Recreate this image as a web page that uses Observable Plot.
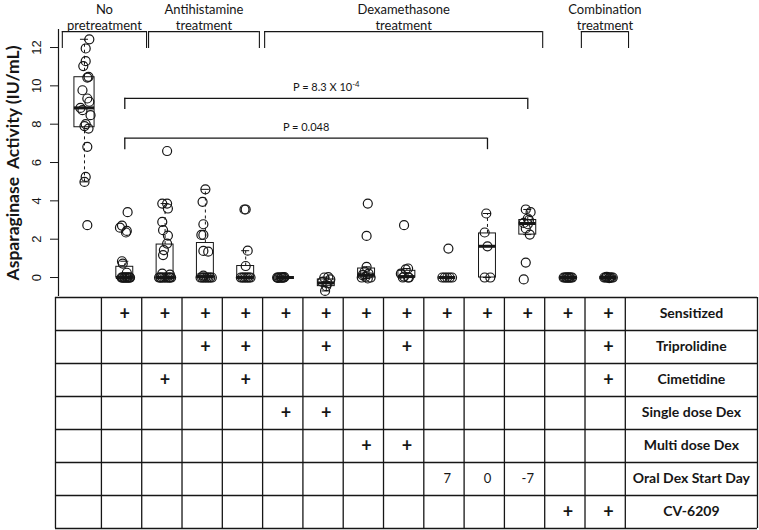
<!DOCTYPE html>
<html><head><meta charset="utf-8">
<script src="https://cdn.jsdelivr.net/npm/d3@7"></script>
<script src="https://cdn.jsdelivr.net/npm/@observablehq/plot@0.6"></script>
<style>body{margin:0;background:#fff} #chart svg{display:block}</style>
</head><body><div id="chart"></div>
<script>
// ---------- data ----------
const activity = [
  [12.43,11.95,11.29,11.03,10.47,10.43,9.77,9.34,9.17,8.85,8.73,8.47,8.0,7.9,7.77,6.82,5.25,4.99,2.73],
  [3.41,2.71,2.60,2.43,2.35,0.85,0.73,0.25,0,0,0,0,0,0,0,0,0,0,0,0],
  [6.6,3.86,3.86,3.6,2.9,2.47,2.19,1.77,1.43,1.17,0.2,0.15,0,0,0,0,0,0,0,0,0,0],
  [4.6,3.95,2.78,2.22,2.22,1.39,1.35,0.1,0,0,0,0,0,0,0,0],
  [3.55,3.55,1.4,0.6,0,0,0,0,0,0,0],
  [0,0,0,0,0,0,0.02,-0.02,0,0],
  [0.02,0,-0.1,-0.23,-0.3,-0.45,-0.7],
  [3.86,2.17,0.56,0.3,0.2,0.12,0.03,0,-0.05,0],
  [2.73,0.47,0.42,0.2,0.05,0,0,0],
  [1.51,0,0,0,0,0],
  [3.34,2.35,1.63,0,0],
  [3.55,3.41,3.08,3.0,2.85,2.78,2.56,2.24,0.78,-0.1],
  [0,0,0,0,0,0,0,0,0,0],
  [0,0,0.03,0,-0.03,0,0,0,0.02,0]
];
// horizontal jitter of each point, in group-spacing units
const jitter = [
  [0.12,0.03,0.03,-0.03,0.1,0.07,-0.05,0.07,0.12,-0.1,-0.05,0.15,0.03,0,0.1,0.07,0.03,0,0.07],
  [0.07,-0.07,-0.12,0.05,0.03,-0.07,-0.05,0.05,-0.08,-0.05,-0.02,0.01,0.04,0.07,0.1,0.13,-0.06,0,0.06,0.12],
  [0.05,-0.07,0.05,0.07,-0.07,-0.05,0.07,0.05,-0.03,-0.05,-0.07,0.12,-0.15,-0.1,-0.06,-0.02,0.02,0.06,0.1,0.15,-0.12,0.12],
  [0,-0.07,-0.05,-0.1,-0.05,-0.05,0.07,-0.05,-0.12,-0.08,-0.04,0,0.04,0.08,0.12,0.16],
  [-0.03,0,0.05,0,-0.12,-0.08,-0.04,0,0.04,0.08,0.12],
  [-0.22,-0.19,-0.16,-0.13,-0.1,-0.07,-0.04,-0.2,-0.11,-0.06],
  [0.05,-0.05,0.1,-0.1,0.03,0,-0.03],
  [0.03,0,0,-0.05,0.05,-0.1,-0.03,0.1,0.03,-0.12],
  [-0.07,0.03,-0.03,-0.15,-0.07,0.03,0.05,-0.1],
  [0.03,-0.12,-0.06,0,0.06,0.12],
  [-0.03,-0.07,0,-0.07,0.07],
  [-0.05,0.07,0,0.03,-0.1,0,-0.05,0.05,-0.05,-0.1],
  [-0.11,-0.08,-0.05,-0.02,0.01,0.04,0.07,0.1,-0.03,0.03],
  [-0.1,-0.07,-0.04,-0.01,0.02,0.05,0.08,0.11,-0.05,0.03]
];
// box-plot statistics per group (as drawn in the reference)
const boxQ1     = [7.84,0,0,0,0,0,-0.45,0,0,0,0,2.24,0,0];
const boxMedian = [8.85,0,0,0.05,0,0,-0.28,0.12,0.05,0,1.63,2.82,0,0];
const boxQ3     = [10.45,0.56,1.72,1.8,0.6,0,-0.1,0.47,0.35,0,2.3,3.0,0,0];
const whiskerLo = [4.99,0,0,0,0,0,-0.7,-0.05,0,0,0,2.24,0,0];
const whiskerHi = [12.43,0.85,3.86,4.6,1.4,0,0.02,0.56,0.47,0,3.34,3.55,0,0];

const yTicks = [0,2,4,6,8,10,12];
const yTitle = "Asparaginase  Activity (IU/mL)";

// treatment-category brackets (in group-index units)
const categoryLabels = ["No\npretreatment","Antihistamine\ntreatment","Dexamethasone\ntreatment","Combination\ntreatment"];
const categoryStart  = [-0.55, 1.59, 4.47, 12.33];
const categoryEnd    = [1.54, 4.34, 11.37, 13.5];

// significance brackets
const sigFrom  = [1, 1];
const sigTo    = [11, 10];
const sigLevel = [9.35, 7.27];
const sigDrop  = [8.76, 6.67];
const sigText  = ["P = 8.3 X 10", "P = 0.048"];
const sigSup   = ["-4", ""];

// table below the plot
const tableRows = ["Sensitized","Triprolidine","Cimetidine","Single dose Dex","Multi dose Dex","Oral Dex Start Day","CV-6209"];
const tableCells = [
  ["","+","+","+","+","+","+","+","+","+","+","+","+","+"],
  ["","","","+","+","","+","","+","","","","","+"],
  ["","","+","","+","","","","","","","","","+"],
  ["","","","","","+","+","","","","","","",""],
  ["","","","","","","","+","+","","","","",""],
  ["","","","","","","","","","7","0","-7","",""],
  ["","","","","","","","","","","","","+","+"]
];

// ---------- layout ----------
const W = 759;
const xDomain = [-0.645, 16.75];
const ink = "#161616";
const font = "Lato, 'Open Sans', sans-serif";

const points = activity.flatMap((vals, g) => vals.map((v, k) => ({g, v, x: g + jitter[g][k]})));
const stats = boxQ1.map((q1, g) => ({
  g, q1, med: boxMedian[g], q3: boxQ3[g], lo: whiskerLo[g], hi: whiskerHi[g], hw: g === 0 ? 0.25 : 0.21
}));
const cats = categoryLabels.map((label, k) => ({label, s: categoryStart[k], e: categoryEnd[k]}));
const sigs = sigText.map((t, k) => ({t, a: sigFrom[k], b: sigTo[k], y: sigLevel[k], d: sigDrop[k]}));
const capHalf = 0.1;
const catTop = 12.83, catBottom = 11.95;

const plot1 = Plot.plot({
  width: W, height: 296,
  marginLeft: 58, marginRight: 0, marginTop: 29, marginBottom: 0,
  x: {domain: xDomain, axis: null},
  y: {domain: [-0.99, 12.94], axis: null},
  style: {fontFamily: font, color: ink, background: "white", overflow: "visible"},
  marks: [
    Plot.ruleX([xDomain[0]], {stroke: ink, strokeWidth: 1.2}),
    Plot.axisY({ticks: yTicks, tickSize: 8, tickFormat: () => "", label: null, stroke: ink}),
    Plot.text(yTicks, {y: d => d, text: d => String(d), frameAnchor: "left", textAnchor: "middle", dx: -22, rotate: -90, fontSize: 13, fontFamily: "'Liberation Sans', Arial, sans-serif", fill: ink}),
    Plot.text([yTitle], {frameAnchor: "left", textAnchor: "middle", dx: -45, rotate: -90, fontSize: 17.5, fontWeight: "bold", fill: ink}),
    // category brackets
    Plot.ruleY(cats, {y: catTop, x1: "s", x2: "e", stroke: ink, strokeWidth: 1.1}),
    Plot.ruleX(cats, {x: "s", y1: catTop, y2: catBottom, stroke: ink, strokeWidth: 1.1}),
    Plot.ruleX(cats, {x: "e", y1: catTop, y2: catBottom, stroke: ink, strokeWidth: 1.1}),
    Plot.text(cats, {x: d => (d.s + d.e) / 2, y: catTop, text: "label", lineAnchor: "bottom", dy: -2, fontSize: 13, lineHeight: 1.18, fill: ink}),
    // significance brackets
    Plot.ruleY(sigs, {y: "y", x1: "a", x2: "b", stroke: ink, strokeWidth: 1.3}),
    Plot.ruleX(sigs, {x: "a", y1: "y", y2: "d", stroke: ink, strokeWidth: 1.3}),
    Plot.ruleX(sigs, {x: "b", y1: "y", y2: "d", stroke: ink, strokeWidth: 1.3}),
    Plot.text(sigs, {x: d => (d.a + d.b) / 2, y: "y", text: "t", dy: -11, fontSize: 11, fill: ink}),
    // box plots
    Plot.ruleX(stats, {x: "g", y1: "q3", y2: "hi", stroke: ink, strokeDasharray: "3,3"}),
    Plot.ruleX(stats, {x: "g", y1: "lo", y2: "q1", stroke: ink, strokeDasharray: "3,3"}),
    Plot.ruleY(stats, {y: "hi", x1: d => d.g - capHalf, x2: d => d.g + capHalf, stroke: ink}),
    Plot.ruleY(stats, {y: "lo", x1: d => d.g - capHalf, x2: d => d.g + capHalf, stroke: ink}),
    Plot.rect(stats, {x1: d => d.g - d.hw, x2: d => d.g + d.hw, y1: "q1", y2: "q3", fill: "white", stroke: ink}),
    Plot.ruleY(stats, {y: "med", x1: d => d.g - d.hw, x2: d => d.g + d.hw, stroke: ink, strokeWidth: 3}),
    // raw points
    Plot.dot(points, {x: "x", y: "v", r: 4.5, stroke: ink, strokeWidth: 1.2, fill: "none"})
  ]
});

// superscript for the P value
plot1.querySelectorAll("text").forEach(t => {
  sigText.forEach((s, k) => {
    if (sigSup[k] && t.textContent === s) {
      const ts = document.createElementNS("http://www.w3.org/2000/svg", "tspan");
      ts.setAttribute("dy", "-0.45em");
      ts.setAttribute("font-size", "0.7em");
      ts.textContent = sigSup[k];
      t.appendChild(ts);
    }
  });
});

const cells = tableCells.flatMap((row, r) => row.map((t, g) => ({r, g, t}))).filter(d => d.t);
const colEdges = [-0.72, ...d3.range(14).map(i => i + 0.42), 16.7];
const labelX = (13.42 + 16.7) / 2;

const plot2 = Plot.plot({
  width: W, height: 234,
  marginLeft: 58, marginRight: 0, marginTop: 1, marginBottom: 2,
  x: {domain: xDomain, axis: null},
  y: {domain: [7, 0], axis: null},
  style: {fontFamily: font, color: ink, background: "white", overflow: "visible"},
  marks: [
    Plot.ruleY(d3.range(8), {y: d => d, x1: colEdges[0], x2: colEdges[colEdges.length - 1], stroke: ink, strokeWidth: 1.3}),
    Plot.ruleX(colEdges, {x: d => d, y1: 0, y2: 7, stroke: ink, strokeWidth: 1.3}),
    Plot.text(cells.filter(d => d.t === "+"), {x: "g", y: d => d.r + 0.5, text: "t", fontSize: 18, fontWeight: "bold", fill: ink}),
    Plot.text(cells.filter(d => d.t !== "+"), {x: "g", y: d => d.r + 0.5, text: "t", fontSize: 13, fill: ink}),
    Plot.text(tableRows, {x: labelX, y: (d, i) => i + 0.5, text: d => d, fontSize: 14, fontWeight: "bold", fill: ink})
  ]
});

document.getElementById("chart").append(plot1, plot2);
</script></body></html>
